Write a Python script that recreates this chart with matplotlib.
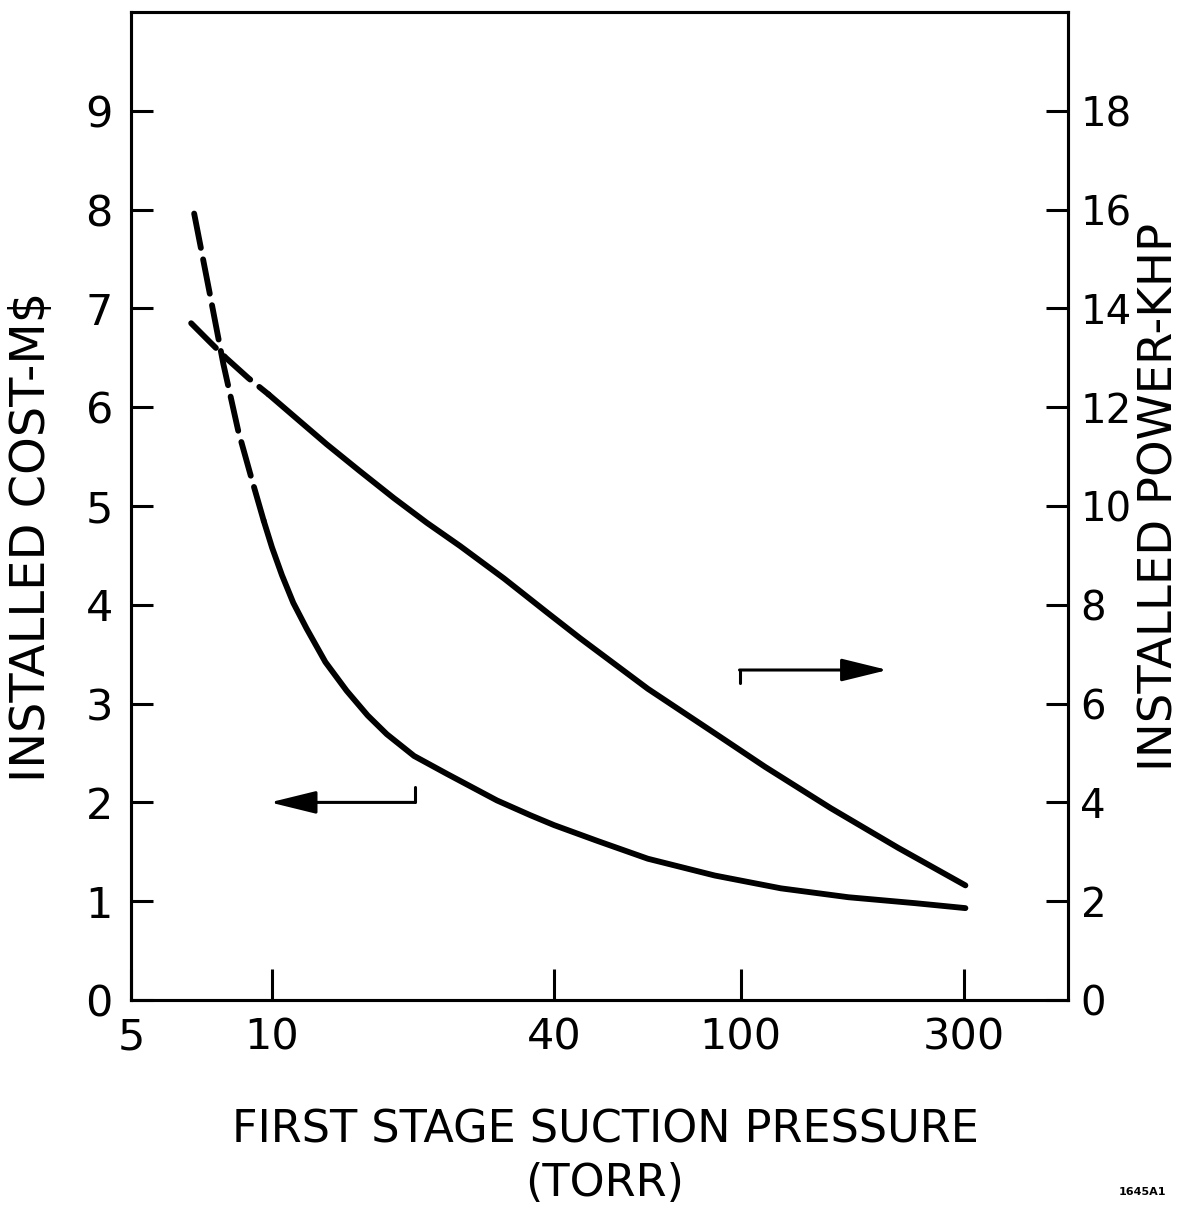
import matplotlib
matplotlib.use("Agg")
import matplotlib.pyplot as plt

# pressure (torr) vs installed cost (M$)
cost_dash_x = [6.82, 7.35, 7.87, 8.47, 9.04, 9.6]
cost_dash_y = [7.96, 7.17, 6.44, 5.76, 5.28, 4.85]
cost_solid_x = [9.6, 10.0, 10.5, 11.1, 11.85, 13.0, 14.43, 16.0, 17.58, 20.1, 23.6,
                30.2, 35.6, 40.0, 49.5, 63.4, 88.1, 122, 170, 236, 302]
cost_solid_y = [4.85, 4.58, 4.30, 4.02, 3.76, 3.42, 3.13, 2.88, 2.69, 2.47, 2.29,
                2.02, 1.87, 1.77, 1.61, 1.43, 1.26, 1.13, 1.04, 0.98, 0.93]

# pressure (torr) vs installed power (KHP)
power_dash_x = [6.72, 7.35, 7.99, 8.90, 9.83]
power_dash_y = [13.70, 13.33, 12.99, 12.59, 12.26]
power_solid_x = [9.83, 11.45, 13.08, 15.38, 18.2, 21.4, 25.2, 31.3, 38.7, 45.5,
                 63.4, 88.1, 112.8, 156, 217, 302]
power_solid_y = [12.26, 11.72, 11.25, 10.71, 10.16, 9.66, 9.19, 8.53, 7.84, 7.32,
                 6.30, 5.40, 4.72, 3.88, 3.08, 2.32]

x_ticks = [5, 10, 40, 100, 300]
x_tick_labels = ["5", "10", "40", "100", "300"]
cost_ticks = list(range(0, 10))
power_ticks = list(range(0, 20, 2))

W, H = 1187, 1229
FS = 29
LW = 4.2

plt.rcParams['font.family'] = ['DejaVu Sans']

fig = plt.figure(figsize=(W / 100, H / 100), dpi=100)
left, right, top, bottom = 131, 1068, 12, 1000
ax = fig.add_axes([left / W, 1 - bottom / H, (right - left) / W, (bottom - top) / H])
ax2 = ax.twinx()

ax.set_xscale('log')
ax.set_xlim(5, 500)
ax.set_ylim(0, 10)
ax2.set_ylim(0, 20)

line_kw = dict(color='black', lw=LW, solid_capstyle='round', dash_capstyle='round')
ax.plot(cost_dash_x, cost_dash_y, linestyle=(0, (6, 2)), **line_kw)
ax.plot(cost_solid_x, cost_solid_y, **line_kw)
ax2.plot(power_dash_x, power_dash_y, linestyle=(0, (6, 2)), **line_kw)
ax2.plot(power_solid_x, power_solid_y, **line_kw)

# ticks
ax.set_xticks(x_ticks)
ax.set_xticklabels(x_tick_labels)
ax.xaxis.set_minor_locator(matplotlib.ticker.NullLocator())
ax.set_yticks(cost_ticks)
ax2.set_yticks(power_ticks)
ax.tick_params(axis='x', direction='in', length=22, width=2.2, labelsize=31, pad=12)
ax.tick_params(axis='y', direction='in', length=16, width=2.2, labelsize=31, pad=13)
ax2.tick_params(axis='y', direction='in', length=16, width=2.2, labelsize=FS, pad=9)
for a in (ax, ax2):
    for s in a.spines.values():
        s.set_linewidth(2.2)

# left / right pointer arrows
arrow = '-|>,head_length=0.57,head_width=0.14'
ax.plot([20.2, 20.2], [2.16, 2.0], color='black', lw=2.2, solid_capstyle='round')
ax.annotate('', xy=(9.9, 2.0), xytext=(20.2, 2.0),
            arrowprops=dict(arrowstyle=arrow, color='black', lw=2.2,
                            mutation_scale=50, shrinkA=0, shrinkB=0))
ax2.plot([99.5, 99.5], [6.42, 6.68], color='black', lw=2.2, solid_capstyle='round')
ax2.annotate('', xy=(206, 6.68), xytext=(99.5, 6.68),
             arrowprops=dict(arrowstyle=arrow, color='black', lw=2.2,
                             mutation_scale=50, shrinkA=0, shrinkB=0))

# axis titles
fig.text(32 / W, 1 - 537 / H, "INSTALLED COST-M$", rotation=90,
         ha='center', va='center', fontsize=34.5)
fig.text(1160 / W, 1 - 497 / H, "INSTALLED POWER-KHP", rotation=90,
         ha='center', va='center', fontsize=33.5)
fig.text(605 / W, 1 - 1157 / H, "FIRST STAGE SUCTION PRESSURE\n(TORR)",
         ha='center', va='center', fontsize=32, linespacing=1.3)
fig.text(1142 / W, 1 - 1192 / H, "1645A1", ha='center', va='center',
         fontsize=8, fontweight='bold')

fig.savefig("out.png", dpi=100)
